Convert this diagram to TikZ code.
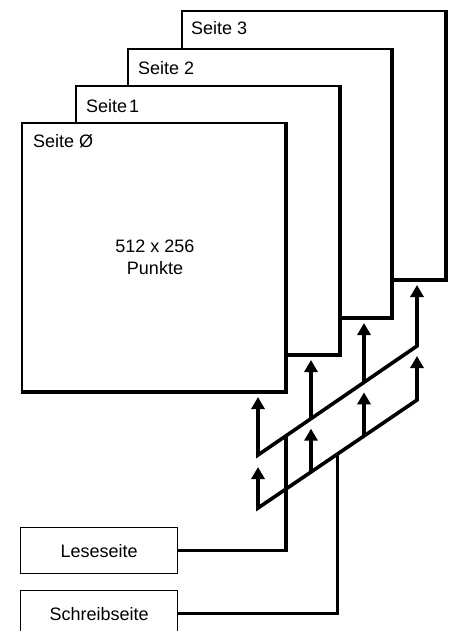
\documentclass[tikz,border=0pt]{standalone}
\usepackage{fontspec}
\setmainfont{Liberation Sans}
\usetikzlibrary{arrows.meta,calc}
\begin{document}
\begin{tikzpicture}[x=1pt,y=-1pt,
  page/.style={draw, fill=white, line width=2pt, anchor=north west, inner sep=0pt,
    minimum width=263pt, minimum height=268pt},
  heavy/.style={line width=3pt},
  lbl/.style={anchor=west, inner sep=0pt, font=\fontsize{18}{20}\selectfont},
  bus/.style={line width=3.6pt, line join=miter},
  tip/.style={-{Triangle[width=13pt,length=12pt]}},
  tips/.style={{Triangle[width=13pt,length=12pt]}-{Triangle[width=13pt,length=12pt]}},
  ctrl/.style={draw, line width=1.4pt, anchor=north west, minimum width=157pt,
    minimum height=46pt, inner sep=0pt, font=\fontsize{18}{20}\selectfont},
  conn/.style={line width=3.4pt, line join=miter}]
\useasboundingbox (0,0) rectangle (454,631);
\clip (0,0) rectangle (454,631);

% pages, back to front
\node[page] (p3) at (181,10) {};
\draw[heavy] (p3.north east) -- (p3.south east) -- (p3.south west);
\node[lbl] (t3) at ($(p3.north west)+(10,18)$) {Seite 3};
\node[page] (p2) at (127,48) {};
\draw[heavy] (p2.north east) -- (p2.south east) -- (p2.south west);
\node[lbl] (t2) at ($(p2.north west)+(11,20)$) {Seite 2};
\node[page] (p1) at (75,85) {};
\draw[heavy] (p1.north east) -- (p1.south east) -- (p1.south west);
\node[lbl] (t1) at ($(p1.north west)+(11,21)$) {Seite\kern2pt 1};
\node[page] (p0) at (21,122) {};
\draw[heavy] (p0.north east) -- (p0.south east) -- (p0.south west);
\node[lbl] (t0) at ($(p0.north west)+(12,19)$) {Seite Ø};
\node[align=center, inner sep=0pt, font=\fontsize{18}{22}\selectfont] (size) at (155,257) {512 x 256\\Punkte};

% read bus
\coordinate (rA) at (258,455);
\coordinate (rB) at (417,346);
\coordinate (r1) at ($(rA)!1/3!(rB)$);
\coordinate (r2) at ($(rA)!2/3!(rB)$);
\coordinate (rL) at ($(rA)!0.176!(rB)$);
\draw[bus,tips,shorten <=5pt,shorten >=5pt] (rA |- p0.south) -- (rA) -- (rB) -- (rB |- p3.south);
\draw[bus,tip,shorten >=5pt] (r1) -- (r1 |- p1.south);
\draw[bus,tip,shorten >=5pt] (r2) -- (r2 |- p2.south);

% write bus
\coordinate (wA) at (258,508);
\coordinate (wB) at (417,400);
\coordinate (w1) at ($(wA)!1/3!(wB)$);
\coordinate (w2) at ($(wA)!2/3!(wB)$);
\coordinate (wM) at ($(wA)!0.5!(wB)$);
\draw[bus,tips,shorten <=12pt,shorten >=10pt] (rA) -- (wA) -- (wB) -- (rB);
\draw[bus,tip,shorten >=10pt] (w1) -- (w1 |- r1);
\draw[bus,tip,shorten >=10pt] (w2) -- (w2 |- r2);

% control registers
\node[ctrl] (lese) at (20,527) {Leseseite};
\node[ctrl] (schreib) at (20,590) {Schreibseite};
\draw[conn] (lese.east) -- (lese.east -| rL) -- (rL);
\draw[conn] (schreib.east) -- (schreib.east -| wM) -- (wM);
\end{tikzpicture}
\end{document}
